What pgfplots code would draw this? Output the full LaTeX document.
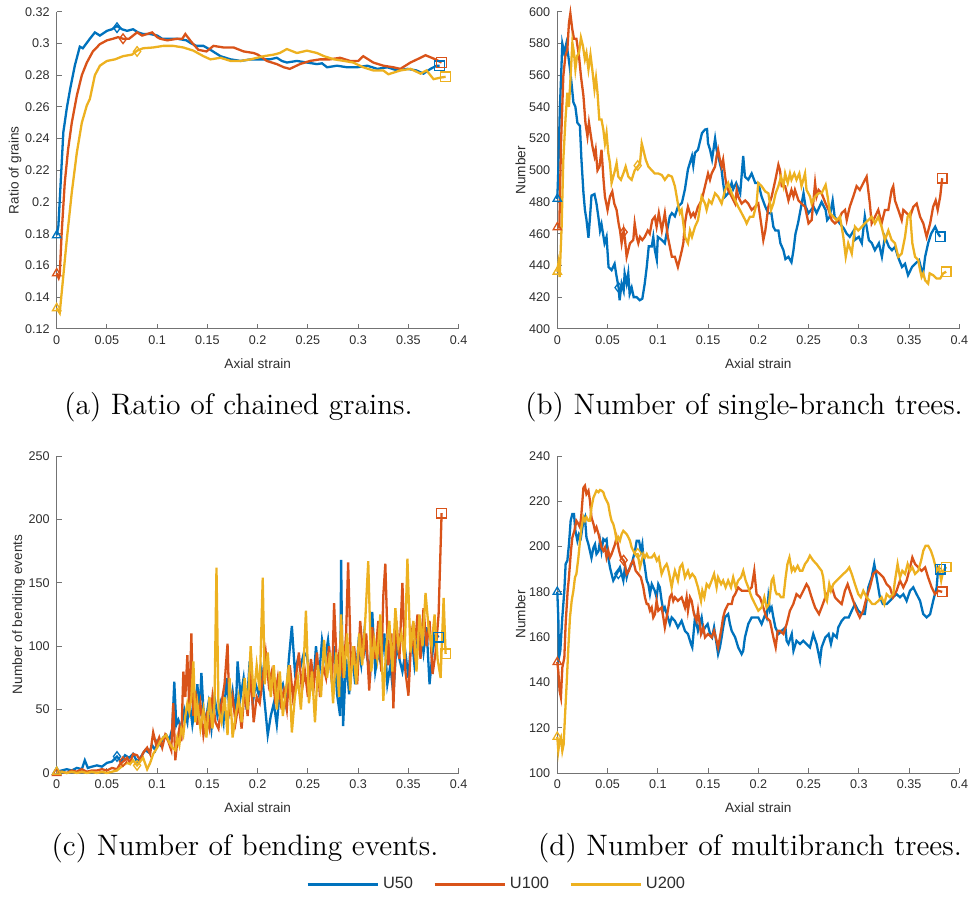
\documentclass[border=0pt]{standalone}
\usepackage{fontspec}
\usepackage{pgfplots}
\pgfplotsset{compat=1.18}
\newfontfamily\arialfont{Liberation Sans}
\definecolor{mblue}{RGB}{0,114,189}
\definecolor{mred}{RGB}{217,83,25}
\definecolor{myel}{RGB}{237,177,32}
\definecolor{axgray}{RGB}{115,115,115}
\definecolor{txtgray}{RGB}{45,45,45}
\pgfplotsset{
  mat/.style={
    scale only axis, width=201pt, height=158.5pt,
    xmin=0, xmax=0.4,
    xtick={0,0.05,0.1,0.15,0.2,0.25,0.3,0.35,0.4},
    axis x line*=bottom, axis y line*=left,
    axis line style={axgray, line width=0.45pt, -},
    tick align=inside, major tick length=2.5pt,
    tick style={axgray, line width=0.45pt},
    scaled ticks=false,
    xticklabel style={/pgf/number format/fixed, /pgf/number format/precision=2},
    yticklabel style={/pgf/number format/fixed, /pgf/number format/precision=2},
    /pgf/number format/assume math mode=true,
    tick label style={font=\arialfont\fontsize{6.3}{7}\selectfont, text=txtgray},
    label style={font=\arialfont\fontsize{6.8}{8}\selectfont, text=txtgray},
    ylabel style={yshift=-5pt},
    xlabel={Axial strain},
    clip=false,
  },
  ln/.style={line width=1.15pt, no marks},
  mk/.style={only marks, mark size=2.4pt, line width=0.65pt, mark options={solid, fill=none}, forget plot},
}
\begin{document}
\begin{tikzpicture}
\useasboundingbox (0,0) rectangle (485.5pt,-450pt);

% ---------------- (a)
\begin{axis}[mat, at={(28.35pt,-164.4pt)}, anchor=south west,
  ymin=0.12, ymax=0.32, ytick={0.12,0.14,0.16,0.18,0.2,0.22,0.24,0.26,0.28,0.3,0.32},
  ylabel={Ratio of grains}]
\addplot[ln, mblue] coordinates {(0,0.179)(0.0017,0.185)(0.0066,0.244)(0.01,0.259)(0.0133,0.271)(0.018,0.286)(0.023,0.298)(0.026,0.297)(0.033,0.303)(0.038,0.307)(0.043,0.305)(0.05,0.308)(0.055,0.309)(0.06,0.311)(0.065,0.309)(0.07,0.308)(0.076,0.309)(0.081,0.307)(0.086,0.306)(0.093,0.306)(0.1,0.305)(0.105,0.303)(0.11,0.303)(0.12,0.303)(0.129,0.302)(0.134,0.300)(0.139,0.2985)(0.146,0.2985)(0.153,0.296)(0.158,0.294)(0.163,0.292)(0.173,0.290)(0.183,0.289)(0.193,0.290)(0.203,0.290)(0.212,0.290)(0.219,0.291)(0.224,0.289)(0.229,0.288)(0.239,0.289)(0.249,0.288)(0.259,0.287)(0.264,0.2875)(0.269,0.285)(0.279,0.286)(0.289,0.285)(0.299,0.285)(0.309,0.286)(0.319,0.284)(0.329,0.285)(0.339,0.283)(0.349,0.284)(0.358,0.283)(0.365,0.281)(0.372,0.284)(0.378,0.286)(0.381,0.286)};
\addplot[ln, mred] coordinates {(0,0.155)(0.002,0.152)(0.003,0.154)(0.005,0.181)(0.008,0.212)(0.0113,0.233)(0.015,0.250)(0.02,0.267)(0.025,0.280)(0.03,0.288)(0.036,0.295)(0.043,0.2996)(0.05,0.302)(0.056,0.303)(0.061,0.304)(0.066,0.303)(0.072,0.303)(0.076,0.305)(0.08,0.307)(0.085,0.305)(0.09,0.306)(0.095,0.307)(0.1,0.304)(0.103,0.303)(0.11,0.302)(0.12,0.303)(0.125,0.303)(0.128,0.306)(0.134,0.301)(0.141,0.296)(0.149,0.295)(0.156,0.2985)(0.166,0.2975)(0.176,0.2975)(0.186,0.295)(0.196,0.294)(0.2,0.293)(0.205,0.291)(0.209,0.289)(0.219,0.287)(0.226,0.285)(0.232,0.284)(0.242,0.287)(0.252,0.289)(0.262,0.290)(0.272,0.290)(0.282,0.291)(0.292,0.289)(0.3,0.289)(0.305,0.292)(0.315,0.288)(0.325,0.286)(0.335,0.285)(0.342,0.284)(0.352,0.288)(0.362,0.291)(0.367,0.2926)(0.375,0.2905)(0.383,0.288)};
\addplot[ln, myel] coordinates {(0,0.133)(0.002,0.131)(0.003,0.130)(0.005,0.143)(0.01,0.176)(0.015,0.206)(0.02,0.231)(0.025,0.250)(0.03,0.261)(0.033,0.265)(0.038,0.280)(0.043,0.286)(0.05,0.289)(0.058,0.290)(0.066,0.292)(0.075,0.293)(0.08,0.2955)(0.086,0.297)(0.096,0.2975)(0.106,0.2985)(0.116,0.2985)(0.126,0.2975)(0.136,0.2955)(0.146,0.292)(0.153,0.290)(0.163,0.291)(0.173,0.289)(0.183,0.289)(0.193,0.290)(0.206,0.292)(0.216,0.293)(0.222,0.294)(0.229,0.2965)(0.239,0.294)(0.249,0.2955)(0.259,0.294)(0.266,0.292)(0.276,0.290)(0.286,0.289)(0.295,0.288)(0.305,0.285)(0.315,0.283)(0.325,0.283)(0.33,0.2806)(0.342,0.283)(0.352,0.284)(0.362,0.281)(0.368,0.283)(0.375,0.2775)(0.382,0.2785)(0.387,0.279)};
\addplot[mk, mblue, mark=triangle] coordinates {(0,0.179)};
\addplot[mk, mblue, mark=diamond] coordinates {(0.06,0.310)};
\addplot[mk, mblue, mark=square] coordinates {(0.381,0.286)};
\addplot[mk, mred, mark=triangle] coordinates {(0,0.155)};
\addplot[mk, mred, mark=diamond] coordinates {(0.066,0.303)};
\addplot[mk, mred, mark=square] coordinates {(0.383,0.288)};
\addplot[mk, myel, mark=triangle] coordinates {(0,0.133)};
\addplot[mk, myel, mark=diamond] coordinates {(0.08,0.295)};
\addplot[mk, myel, mark=square] coordinates {(0.387,0.279)};
\end{axis}

% ---------------- (b)
\begin{axis}[mat, at={(278.65pt,-164.4pt)}, anchor=south west,
  ymin=400, ymax=600, ytick={400,420,440,460,480,500,520,540,560,580,600},
  ylabel={Number}]
\addplot[ln, mblue] coordinates {(0,482)(0.001,500)(0.0025,538)(0.005,580)(0.007,574)(0.009,580)(0.011,572)(0.0126,564)(0.014,556)(0.016,543)(0.018,540)(0.02,530)(0.0225,528)(0.024,507)(0.026,486)(0.0275,475)(0.029,469)(0.031,457.5)(0.0325,470)(0.034,484)(0.037,485)(0.039,479)(0.041,470)(0.0425,462)(0.044,466)(0.047,454)(0.049,458)(0.051,439)(0.054,437)(0.057,441)(0.059,433)(0.061,426)(0.062,418)(0.064,428.5)(0.066,424)(0.067,435)(0.069,428.5)(0.0706,435)(0.072,422)(0.074,426)(0.076,420)(0.079,420)(0.082,418)(0.0846,419)(0.087,428.5)(0.089,439)(0.091,452)(0.094,452)(0.0955,458)(0.097,450)(0.099,443.6)(0.1,458)(0.104,456)(0.107,454)(0.11,464.5)(0.112,471)(0.114,473)(0.117,471)(0.12,477)(0.124,479.5)(0.127,488)(0.13,500.6)(0.134,509)(0.1353,503)(0.137,511)(0.14,513)(0.144,523.5)(0.147,525.7)(0.149,526)(0.15,517)(0.152,513)(0.154,507)(0.157,520)(0.1585,513)(0.16,509)(0.1635,500)(0.165,492)(0.167,483.4)(0.17,485.5)(0.1735,492)(0.175,488)(0.178,492)(0.182,485.5)(0.185,509)(0.1867,496)(0.19,494)(0.1934,498)(0.197,492)(0.2,492)(0.2033,483.4)(0.207,477)(0.21,473)(0.213,473)(0.215,464.4)(0.217,462)(0.22,462)(0.222,454)(0.225,449.6)(0.227,444)(0.23,445.4)(0.233,442)(0.235,449.6)(0.237,460)(0.2395,466.5)(0.242,475)(0.245,485.5)(0.247,477)(0.25,473)(0.255,477)(0.258,473)(0.263,480)(0.267,475)(0.2685,468.6)(0.271,470.7)(0.274,481)(0.276,470.7)(0.281,466.5)(0.285,463.4)(0.288,460)(0.291,458)(0.295,462)(0.296,456)(0.3,458)(0.303,454)(0.306,471)(0.31,456)(0.313,454)(0.316,449.6)(0.32,454)(0.323,445.4)(0.326,458)(0.33,451.7)(0.333,449.6)(0.336,451.7)(0.339,445.4)(0.343,439)(0.346,441)(0.349,433.8)(0.353,439)(0.356,441)(0.36,443.3)(0.3625,437)(0.364,435)(0.366,445.4)(0.369,454)(0.372,460)(0.376,464.4)(0.379,460)(0.381,458)};
\addplot[ln, mred] coordinates {(0,464)(0.002,464)(0.0037,517)(0.006,559.5)(0.008,572)(0.01,576)(0.0116,593)(0.013,599)(0.0149,589)(0.0166,583)(0.019,583)(0.0216,572)(0.0235,559.5)(0.026,547)(0.028,530)(0.03,521.4)(0.0315,530)(0.0335,521.4)(0.035,515)(0.037,509)(0.0382,513)(0.04,500)(0.042,502.4)(0.044,513)(0.046,494)(0.0474,483.4)(0.05,475)(0.0524,483.4)(0.0547,486.6)(0.0567,479)(0.059,475)(0.061,466.5)(0.0624,462)(0.064,454)(0.066,462)(0.0674,456)(0.069,445.4)(0.0706,449.6)(0.0723,454)(0.0756,456)(0.077,466.5)(0.079,458)(0.0806,454)(0.0823,458)(0.0846,456)(0.087,458)(0.09,462)(0.092,460)(0.0945,468.6)(0.097,470.7)(0.0988,464.4)(0.101,473)(0.104,462)(0.107,473)(0.11,458)(0.114,445.4)(0.117,445.4)(0.12,439)(0.124,449.6)(0.1254,454)(0.127,466.5)(0.1287,473)(0.13,477)(0.133,470.7)(0.1353,473)(0.137,470.7)(0.14,477)(0.1436,481)(0.147,490)(0.15,498)(0.1519,494)(0.1536,498)(0.157,502.4)(0.1585,508.8)(0.16,513)(0.1618,506.7)(0.1635,502.4)(0.165,506.7)(0.167,496)(0.1685,490)(0.17,487.6)(0.1735,483.4)(0.177,479)(0.1785,487.6)(0.18,483.4)(0.1834,479)(0.187,481)(0.19,479)(0.1934,475)(0.1967,477)(0.2,479)(0.2033,464.4)(0.205,456)(0.207,462)(0.21,477)(0.2133,483.4)(0.217,494)(0.22,503.5)(0.2216,500)(0.2233,490)(0.2267,490)(0.23,481)(0.233,487.6)(0.235,483.4)(0.2365,487.6)(0.24,481)(0.243,479)(0.2465,477)(0.25,466.5)(0.2531,468.6)(0.2565,492)(0.258,483.4)(0.26,487.6)(0.263,485.5)(0.267,479)(0.27,475)(0.273,468.6)(0.2763,466.5)(0.28,468.6)(0.283,473)(0.2863,475)(0.288,468.6)(0.291,477)(0.2945,483.4)(0.2978,490)(0.301,487.6)(0.3045,492)(0.3078,496)(0.311,479)(0.3128,466.5)(0.3161,470.7)(0.3194,475)(0.3227,466.5)(0.326,475)(0.3294,475)(0.3327,487.6)(0.3343,490)(0.336,481)(0.3393,475)(0.3427,468.6)(0.3443,475)(0.3476,473)(0.351,470.7)(0.3543,477)(0.3576,479)(0.361,470.7)(0.3642,466.5)(0.3675,458)(0.371,466.5)(0.374,477)(0.3765,481)(0.3785,475)(0.381,483.4)(0.383,495)};
\addplot[ln, myel] coordinates {(0,436)(0.001,441)(0.0023,432.7)(0.0043,464.4)(0.006,506.7)(0.0083,534)(0.01,549)(0.0116,540)(0.0136,563.7)(0.015,580.6)(0.0166,574)(0.018,563.7)(0.0196,572)(0.0216,574)(0.0235,583.7)(0.0255,578.5)(0.0275,570)(0.029,574)(0.031,563.7)(0.033,573)(0.0348,563.7)(0.037,551)(0.0385,558.4)(0.04,549)(0.0418,532)(0.044,532)(0.0458,525.7)(0.0474,517)(0.049,523.5)(0.0507,511)(0.0524,504.5)(0.054,492)(0.0574,500)(0.059,504.5)(0.0607,496)(0.0633,494)(0.0657,498)(0.068,502.4)(0.0707,496)(0.074,494)(0.077,500)(0.08,502.4)(0.0823,504.5)(0.084,517)(0.0856,513)(0.088,506.7)(0.0906,502.4)(0.094,500)(0.097,498)(0.1005,498)(0.104,497)(0.107,494)(0.1105,497)(0.114,496)(0.117,490)(0.12,479)(0.122,473)(0.1237,475)(0.1254,466.5)(0.127,458)(0.13,454)(0.132,462)(0.134,458)(0.137,464.4)(0.14,468.6)(0.1436,483.4)(0.147,479)(0.1486,475)(0.151,481)(0.1536,479)(0.157,485.5)(0.16,483.4)(0.1635,479)(0.167,487.6)(0.17,492)(0.1735,485.5)(0.177,481)(0.18,477)(0.1834,473)(0.187,468.6)(0.1884,466.5)(0.1917,470.7)(0.195,470.7)(0.1983,479)(0.2,492)(0.2033,490)(0.207,486.6)(0.21,485.5)(0.2127,475)(0.215,479)(0.2173,485.5)(0.22,490)(0.2226,496)(0.225,490)(0.2267,498)(0.2293,492)(0.2315,498)(0.233,494)(0.2358,498)(0.238,494)(0.2408,498)(0.243,490)(0.2465,498)(0.248,487.6)(0.2515,483.4)(0.2531,479)(0.2565,483.4)(0.26,485.5)(0.263,485.5)(0.267,490.8)(0.269,483.4)(0.2713,473)(0.2746,470.7)(0.278,468.6)(0.2813,470.7)(0.2846,458)(0.287,445.4)(0.2895,454)(0.293,447.5)(0.2962,464.4)(0.2995,462)(0.303,464.4)(0.306,466.5)(0.3095,468.6)(0.3128,470.7)(0.316,466.5)(0.3194,470.7)(0.3227,464.4)(0.326,456)(0.3294,462)(0.3327,456)(0.336,454)(0.3393,445.4)(0.3427,447.5)(0.346,458)(0.3486,470.7)(0.351,473)(0.3533,454)(0.356,445.4)(0.3592,443.3)(0.361,437)(0.3625,432.7)(0.3642,435)(0.366,430.6)(0.369,428.5)(0.3705,435)(0.374,433.8)(0.3775,431.7)(0.381,431.7)(0.384,435)(0.387,436)};
\addplot[mk, mblue, mark=triangle] coordinates {(0,482)};
\addplot[mk, mblue, mark=diamond] coordinates {(0.061,426)};
\addplot[mk, mblue, mark=square] coordinates {(0.381,458)};
\addplot[mk, mred, mark=triangle] coordinates {(0,464)};
\addplot[mk, mred, mark=diamond] coordinates {(0.066,461)};
\addplot[mk, mred, mark=square] coordinates {(0.383,495)};
\addplot[mk, myel, mark=triangle] coordinates {(0,436)};
\addplot[mk, myel, mark=diamond] coordinates {(0.08,503)};
\addplot[mk, myel, mark=square] coordinates {(0.387,436)};
\end{axis}

% ---------------- (c)
\begin{axis}[mat, at={(28.35pt,-386.5pt)}, anchor=south west,
  ymin=0, ymax=250, ytick={0,50,100,150,200,250},
  ylabel={Number of bending events},
  legend style={draw=none, fill=none, at={(1.097,-0.351)}, anchor=center,
    legend columns=3, font=\arialfont\fontsize{8.2}{10}\selectfont, text=txtgray,
    /tikz/every even column/.append style={column sep=8pt}},
  legend image code/.code={\draw[#1, line width=1.4pt] (0pt,0pt) -- (35pt,0pt);}]
\addplot[ln, mblue] coordinates {(0,1)(0.005,2)(0.01,3)(0.015,2)(0.02,4)(0.025,3)(0.028,10)(0.031,4)(0.035,5)(0.04,6)(0.045,5)(0.05,8)(0.055,9)(0.06,13)(0.064,9)(0.068,14)(0.072,12)(0.076,15)(0.08,9)(0.084,13)(0.088,18)(0.092,16)(0.095,22)(0.098,18)(0.1,25)(0.103,22)(0.106,28)(0.109,30)(0.112,26)(0.115,35)(0.117,72)(0.119,38)(0.121,42)(0.124,35)(0.127,50)(0.13,40)(0.132,58)(0.135,38)(0.138,55)(0.14,70)(0.142,45)(0.144,79)(0.146,50)(0.148,40)(0.151,55)(0.154,35)(0.157,60)(0.16,45)(0.163,55)(0.166,40)(0.169,75)(0.172,50)(0.175,65)(0.178,45)(0.18,88)(0.183,60)(0.186,75)(0.189,50)(0.192,88)(0.195,55)(0.198,70)(0.201,62)(0.204,80)(0.207,55)(0.21,30)(0.213,45)(0.216,55)(0.219,38)(0.222,65)(0.225,70)(0.228,55)(0.231,90)(0.234,116)(0.237,80)(0.24,90)(0.243,85)(0.246,95)(0.249,92)(0.252,75)(0.255,65)(0.258,100)(0.261,75)(0.264,105)(0.267,90)(0.27,105)(0.273,80)(0.276,100)(0.279,62)(0.282,45)(0.283,168)(0.285,37)(0.288,90)(0.291,62)(0.294,95)(0.297,70)(0.3,100)(0.303,85)(0.306,110)(0.309,90)(0.312,80)(0.314,127)(0.317,80)(0.32,95)(0.323,85)(0.326,110)(0.329,70)(0.332,85)(0.335,62)(0.338,100)(0.341,90)(0.344,80)(0.347,95)(0.35,75)(0.353,110)(0.356,85)(0.359,105)(0.362,115)(0.365,95)(0.368,115)(0.371,70)(0.374,95)(0.377,110)(0.38,107)};
\addplot[ln, mred] coordinates {(0,0)(0.005,1)(0.01,0)(0.015,2)(0.02,1)(0.025,3)(0.03,1)(0.035,2)(0.04,2)(0.045,3)(0.05,2)(0.055,4)(0.06,3)(0.063,7)(0.066,9)(0.07,12)(0.073,8)(0.076,15)(0.08,14)(0.083,10)(0.086,16)(0.09,20)(0.093,15)(0.096,32)(0.099,22)(0.102,28)(0.105,20)(0.108,30)(0.111,25)(0.114,18)(0.116,55)(0.118,10)(0.12,25)(0.122,35)(0.124,25)(0.126,80)(0.128,60)(0.13,93)(0.132,50)(0.134,110)(0.136,45)(0.138,65)(0.14,38)(0.143,55)(0.146,30)(0.149,45)(0.152,35)(0.155,60)(0.158,40)(0.161,35)(0.164,55)(0.167,70)(0.17,102)(0.172,45)(0.175,60)(0.178,40)(0.181,55)(0.184,35)(0.187,65)(0.19,45)(0.193,80)(0.196,40)(0.199,60)(0.202,55)(0.205,75)(0.208,95)(0.211,70)(0.214,80)(0.217,60)(0.22,75)(0.223,55)(0.226,65)(0.229,50)(0.232,85)(0.235,60)(0.238,75)(0.241,95)(0.244,65)(0.247,80)(0.25,60)(0.253,90)(0.256,70)(0.259,95)(0.262,60)(0.265,85)(0.268,75)(0.271,100)(0.274,70)(0.276,134)(0.279,80)(0.282,100)(0.285,75)(0.288,110)(0.29,166)(0.293,80)(0.296,100)(0.299,70)(0.302,120)(0.305,90)(0.308,110)(0.311,65)(0.314,115)(0.317,90)(0.32,120)(0.323,80)(0.325,140)(0.327,165)(0.33,85)(0.333,110)(0.335,51)(0.338,120)(0.341,90)(0.344,150)(0.347,80)(0.35,61)(0.353,110)(0.356,95)(0.359,125)(0.362,90)(0.365,130)(0.368,100)(0.371,120)(0.374,78)(0.377,95)(0.38,125)(0.383,205)};
\addplot[ln, myel] coordinates {(0,1)(0.005,1)(0.01,0)(0.015,1)(0.02,0)(0.025,1)(0.03,0)(0.035,1)(0.04,0)(0.045,1)(0.05,0)(0.055,1)(0.06,2)(0.063,4)(0.066,6)(0.07,8)(0.073,7)(0.076,10)(0.08,6)(0.083,9)(0.086,12)(0.09,3)(0.093,8)(0.096,15)(0.1,20)(0.103,25)(0.106,28)(0.109,30)(0.112,24)(0.115,20)(0.118,18)(0.12,28)(0.122,22)(0.124,35)(0.126,30)(0.128,45)(0.13,55)(0.132,48)(0.134,60)(0.136,88)(0.138,40)(0.14,55)(0.143,35)(0.146,50)(0.149,28)(0.152,60)(0.155,35)(0.157,55)(0.159,162)(0.161,50)(0.164,40)(0.167,60)(0.17,30)(0.172,75)(0.175,28)(0.178,45)(0.181,60)(0.184,40)(0.187,75)(0.19,50)(0.193,100)(0.196,60)(0.199,85)(0.202,65)(0.205,154)(0.207,70)(0.21,95)(0.213,60)(0.216,85)(0.219,50)(0.222,80)(0.225,45)(0.228,65)(0.231,85)(0.234,32)(0.237,60)(0.24,75)(0.243,50)(0.246,90)(0.248,128)(0.251,55)(0.254,80)(0.257,40)(0.26,85)(0.263,60)(0.266,105)(0.269,75)(0.272,95)(0.275,55)(0.278,95)(0.281,60)(0.283,125)(0.286,75)(0.289,110)(0.292,65)(0.295,100)(0.298,70)(0.301,110)(0.304,85)(0.307,120)(0.31,167)(0.313,80)(0.316,105)(0.319,90)(0.322,125)(0.325,57)(0.328,100)(0.331,120)(0.334,80)(0.337,130)(0.34,100)(0.343,110)(0.346,90)(0.349,169)(0.352,95)(0.355,120)(0.358,80)(0.361,125)(0.364,100)(0.367,142)(0.37,115)(0.373,100)(0.376,125)(0.379,90)(0.382,75)(0.385,138)(0.387,94)};
\legend{U50,U100,U200}
\addplot[mk, mblue, mark=triangle] coordinates {(0,1)};
\addplot[mk, mblue, mark=diamond] coordinates {(0.06,13)};
\addplot[mk, mblue, mark=square] coordinates {(0.38,107)};
\addplot[mk, mred, mark=triangle] coordinates {(0,0)};
\addplot[mk, mred, mark=diamond] coordinates {(0.066,9)};
\addplot[mk, mred, mark=square] coordinates {(0.383,205)};
\addplot[mk, myel, mark=triangle] coordinates {(0,1)};
\addplot[mk, myel, mark=diamond] coordinates {(0.08,6)};
\addplot[mk, myel, mark=square] coordinates {(0.387,94)};
\end{axis}

% ---------------- (d)
\begin{axis}[mat, at={(278.65pt,-386.5pt)}, anchor=south west,
  ymin=100, ymax=240, ytick={100,120,140,160,180,200,220,240},
  ylabel={Number}]
\addplot[ln, mblue] coordinates {(0,180)(0.001,168.7)(0.0017,151)(0.003,154)(0.005,168.7)(0.007,180.5)(0.0083,192.3)(0.01,193.8)(0.0116,201)(0.0133,211.4)(0.015,214.4)(0.0166,214.4)(0.018,207)(0.02,202.6)(0.0216,205.5)(0.0235,204)(0.026,211.4)(0.0275,213)(0.029,204)(0.031,201)(0.0325,198)(0.034,195)(0.036,199.6)(0.0375,201)(0.039,196.7)(0.041,198)(0.0425,202.6)(0.044,198)(0.0458,203.3)(0.0474,202.6)(0.049,203.3)(0.0507,195.2)(0.0524,190.8)(0.054,187.9)(0.0557,185)(0.0574,186.4)(0.059,187.9)(0.0607,189.3)(0.0623,190.8)(0.064,187.9)(0.0657,185)(0.0673,190.8)(0.069,186.4)(0.0706,189.3)(0.074,192.3)(0.0773,198)(0.079,202.6)(0.0813,202.6)(0.0832,198)(0.0846,201)(0.0856,195.2)(0.0872,190.8)(0.089,185)(0.0906,183.4)(0.0922,179)(0.094,183.4)(0.097,180.5)(0.0988,177.6)(0.1005,183.4)(0.102,182)(0.1038,176)(0.1055,171.7)(0.107,173.1)(0.11,168.7)(0.112,165.8)(0.1138,168.7)(0.117,167.2)(0.12,164.3)(0.1237,167.2)(0.127,162.8)(0.13,161.4)(0.133,157)(0.1343,155.5)(0.137,168.7)(0.1386,165.8)(0.14,162.8)(0.1436,168.7)(0.1453,162.8)(0.147,164.3)(0.1496,165.8)(0.152,161.4)(0.154,159.9)(0.156,164.3)(0.1585,157)(0.16,152.5)(0.1618,155.5)(0.1635,159.9)(0.165,164.3)(0.1668,168.7)(0.17,170.2)(0.1718,165.8)(0.1735,162.8)(0.177,159.9)(0.18,155.5)(0.1834,152.5)(0.185,154)(0.1867,159.9)(0.19,165.8)(0.1934,168.7)(0.1967,168.7)(0.2,168.7)(0.2033,165.8)(0.207,170.2)(0.2083,168.7)(0.21,177.6)(0.2116,171.7)(0.2133,173.1)(0.215,168.7)(0.217,164.3)(0.22,161.4)(0.2233,162.8)(0.227,164.3)(0.2282,158.4)(0.23,157)(0.2333,161.4)(0.235,154)(0.238,158.4)(0.2415,157)(0.2448,158.4)(0.248,157)(0.2514,155.5)(0.2547,161.4)(0.258,157)(0.2614,149.6)(0.263,155.5)(0.2667,159.9)(0.27,161.4)(0.2723,157)(0.2746,161.4)(0.278,159.9)(0.2796,164.3)(0.283,167.2)(0.286,168.7)(0.29,168.7)(0.293,171.7)(0.2962,174.6)(0.2995,171.7)(0.303,170.2)(0.306,170.2)(0.3095,182)(0.3128,186.4)(0.3154,192.3)(0.3177,186.4)(0.321,177.6)(0.324,174.6)(0.3277,174.6)(0.331,176)(0.334,177.6)(0.3376,179)(0.341,177.6)(0.3443,179)(0.3476,176)(0.351,180.5)(0.3542,182)(0.3575,179)(0.361,176)(0.3641,170.2)(0.3675,168.7)(0.371,170.2)(0.374,176)(0.3775,182)(0.379,190.8)(0.381,190)};
\addplot[ln, mred] coordinates {(0,149)(0.001,145)(0.0023,136.3)(0.0036,133.4)(0.005,146.6)(0.007,151)(0.0083,165.8)(0.0103,180.5)(0.0116,186.4)(0.0136,198.2)(0.015,204)(0.017,207)(0.019,211.4)(0.021,210)(0.0226,208.5)(0.024,214.4)(0.026,226)(0.0275,226.9)(0.029,223.2)(0.031,224.7)(0.0325,220.3)(0.034,212.9)(0.036,210)(0.0375,207)(0.039,208.5)(0.041,205.5)(0.0425,202.6)(0.044,199.6)(0.0458,198.2)(0.0474,199.6)(0.049,195.2)(0.0507,198.2)(0.0524,195.2)(0.054,196.7)(0.0574,201)(0.059,204)(0.0614,198.2)(0.0633,195.2)(0.066,193.8)(0.0673,192.3)(0.069,187.9)(0.0713,189.3)(0.0733,192.3)(0.0756,193.8)(0.078,189.3)(0.0806,187.9)(0.0832,186.4)(0.0856,182)(0.0872,177.6)(0.089,174.6)(0.0905,174.6)(0.0922,171.7)(0.0939,173.1)(0.0955,168.7)(0.0972,170.2)(0.0988,176)(0.1005,171.7)(0.1038,173.1)(0.1055,168.7)(0.107,164.3)(0.11,171.7)(0.112,177.6)(0.1138,179)(0.1154,176)(0.117,177.6)(0.12,176)(0.1237,177.6)(0.127,173.1)(0.1287,177.6)(0.13,171.7)(0.132,177.6)(0.1337,176)(0.136,170.2)(0.1386,167.2)(0.14,171.7)(0.143,161.4)(0.1453,164.3)(0.147,159.9)(0.15,161.4)(0.1536,159.9)(0.156,162.8)(0.1585,158.4)(0.16,155.5)(0.1618,159.9)(0.1635,164.3)(0.165,168.7)(0.1668,171.7)(0.17,174.6)(0.1735,174.6)(0.175,177.6)(0.177,179)(0.18,182)(0.1834,180.5)(0.187,180.5)(0.19,180.5)(0.1934,182)(0.196,189.3)(0.1983,179)(0.2016,177.6)(0.205,173.1)(0.208,168.7)(0.2116,167.2)(0.215,159.9)(0.2173,155.5)(0.2193,162.8)(0.2216,162.8)(0.225,161.4)(0.2282,165.8)(0.2315,171.7)(0.2348,174.6)(0.238,179)(0.2415,177.6)(0.2448,180.5)(0.248,183.4)(0.25,182)(0.253,177.6)(0.2565,173.1)(0.2604,170.2)(0.263,173.1)(0.2667,177.6)(0.27,180.5)(0.2733,182)(0.2763,177.6)(0.2796,176)(0.283,174.6)(0.2862,180.5)(0.2889,183.4)(0.291,180.5)(0.2945,176)(0.2978,171.7)(0.301,168.7)(0.3045,171.7)(0.3078,177.6)(0.311,182)(0.3144,187.9)(0.3177,189.3)(0.321,187.9)(0.3244,186.4)(0.3277,183.4)(0.331,182)(0.334,177.6)(0.3376,180.5)(0.341,185)(0.3443,182)(0.3476,185)(0.351,190.8)(0.3533,195.2)(0.356,192.3)(0.3592,190.8)(0.3625,189.3)(0.366,190.8)(0.369,186.4)(0.3725,182)(0.3758,179)(0.379,180.5)(0.383,180)};
\addplot[ln, myel] coordinates {(0,116)(0.001,109.8)(0.0023,114.2)(0.0036,115.7)(0.005,109.8)(0.0063,112.7)(0.0076,124.5)(0.0093,139.3)(0.011,155.5)(0.0126,168.7)(0.0143,176)(0.016,180.5)(0.0176,186.4)(0.019,187.9)(0.021,195.2)(0.0226,202.6)(0.024,208.5)(0.026,213)(0.0275,211.4)(0.029,213)(0.031,211.4)(0.0325,211.4)(0.034,217.3)(0.036,221.7)(0.0375,223.2)(0.039,224.7)(0.041,224)(0.0425,225)(0.044,224.7)(0.0458,224)(0.0474,221.7)(0.049,220.3)(0.0507,218.8)(0.0524,214.4)(0.054,211.4)(0.0557,210)(0.0574,207)(0.059,202.6)(0.0607,204.1)(0.0623,202.6)(0.064,205.5)(0.0657,207)(0.0673,206.3)(0.069,205.5)(0.0707,204.1)(0.0723,202.6)(0.074,199.6)(0.0756,198.2)(0.0773,196.7)(0.08,196.7)(0.0823,190.8)(0.084,193.8)(0.0856,196.7)(0.0872,195.2)(0.089,196.7)(0.0905,195.2)(0.094,195.2)(0.0965,196.7)(0.099,193.8)(0.101,195.2)(0.1038,187.9)(0.1065,190.8)(0.1088,192.3)(0.11,190.8)(0.112,186.4)(0.1138,182)(0.1155,186.4)(0.117,189.3)(0.12,185)(0.122,190.8)(0.1244,192.3)(0.127,186.4)(0.13,189.3)(0.132,186.4)(0.1343,187.9)(0.137,186.4)(0.14,182)(0.143,176)(0.1443,180.5)(0.1463,177.6)(0.1486,183.4)(0.151,182)(0.1536,185)(0.156,187.9)(0.1585,182)(0.16,186.4)(0.163,183.4)(0.165,185)(0.1675,182)(0.17,185)(0.1728,182)(0.175,186.4)(0.1775,182)(0.18,185)(0.1828,186.4)(0.185,189.3)(0.1874,185)(0.19,182)(0.1934,177.6)(0.1967,174.6)(0.2,171.7)(0.2033,173.1)(0.206,177.6)(0.2083,173.1)(0.2106,174.6)(0.2133,185)(0.215,186.4)(0.217,180.5)(0.2183,179)(0.2206,179)(0.2226,177.6)(0.225,177.6)(0.2272,186.4)(0.229,192.3)(0.231,195.2)(0.2333,189.3)(0.235,190.8)(0.2365,189.3)(0.2392,191.5)(0.2415,189.3)(0.2438,189.3)(0.2465,192.3)(0.249,193.8)(0.2514,196)(0.2547,193.8)(0.258,192.3)(0.2604,190.8)(0.263,189.3)(0.2646,186.4)(0.2667,177.6)(0.2683,176)(0.2706,183.4)(0.2723,180.5)(0.2746,183.4)(0.278,185)(0.2813,186.4)(0.2846,187.9)(0.288,189.3)(0.2905,190.8)(0.293,187.9)(0.2962,183.4)(0.2995,179)(0.302,177.6)(0.3045,180.5)(0.3078,177.6)(0.311,176)(0.3134,174.6)(0.316,174.6)(0.3194,176)(0.3227,177.6)(0.3254,174.6)(0.3277,179)(0.331,177.6)(0.3343,179)(0.336,185)(0.3386,192.3)(0.341,186.4)(0.3433,189.3)(0.346,187.9)(0.3486,192.3)(0.351,189.3)(0.3533,190.8)(0.356,187.9)(0.3592,189.3)(0.362,193.8)(0.3642,198.2)(0.3665,200.4)(0.369,200.4)(0.3717,198.2)(0.374,195.2)(0.3775,189.3)(0.3798,190.8)(0.382,185)(0.384,189.3)(0.387,191)};
\addplot[mk, mblue, mark=triangle] coordinates {(0,180)};
\addplot[mk, mblue, mark=diamond] coordinates {(0.0607,188)};
\addplot[mk, mblue, mark=square] coordinates {(0.381,190)};
\addplot[mk, mred, mark=triangle] coordinates {(0,149)};
\addplot[mk, mred, mark=diamond] coordinates {(0.066,194)};
\addplot[mk, mred, mark=square] coordinates {(0.383,180)};
\addplot[mk, myel, mark=triangle] coordinates {(0,116)};
\addplot[mk, myel, mark=diamond] coordinates {(0.08,197)};
\addplot[mk, myel, mark=square] coordinates {(0.387,191)};
\end{axis}

% captions
\node[font=\fontsize{14.8}{17}\selectfont] at (119.25pt,-203.5pt) {(a) Ratio of chained grains.};
\node[font=\fontsize{14.8}{17}\selectfont] at (372pt,-203.5pt) {(b) Number of single-branch trees.};
\node[font=\fontsize{14.8}{17}\selectfont] at (122.5pt,-424pt) {(c) Number of bending events.};
\node[font=\fontsize{14.8}{17}\selectfont] at (375pt,-424pt) {(d) Number of multibranch trees.};
\end{tikzpicture}
\end{document}
